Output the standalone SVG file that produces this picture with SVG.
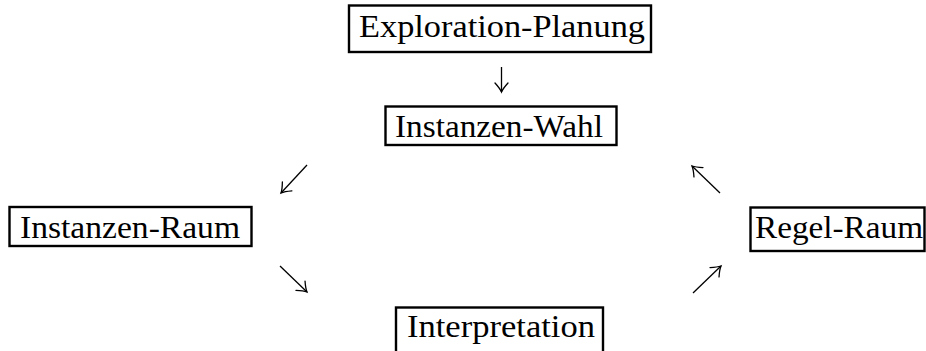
<svg xmlns="http://www.w3.org/2000/svg" width="926" height="351" viewBox="0 0 926 351">
  <style>
    .box { fill: #fff; stroke: #000; stroke-width: 2.4; }
    .lbl { font-family: "Liberation Serif", "DejaVu Serif", serif; font-size: 31px; fill: #000; }
    .arr { fill: none; stroke: #000; stroke-width: 1.3; marker-end: url(#head); }
  </style>
  <defs>
    <marker id="head" markerUnits="userSpaceOnUse" viewBox="-12 -9 14 18" refX="0" refY="0" markerWidth="14" markerHeight="18" orient="auto" overflow="visible">
      <path d="M -9,-6.5 Q -3.5,-1.5 0,0 Q -3.5,1.5 -9,6.5" fill="none" stroke="#000" stroke-width="1.3" stroke-linecap="round"/>
    </marker>
  </defs>

  <g id="exploration-planung">
    <rect class="box" x="349" y="5.5" width="302" height="46.5"/>
    <text class="lbl" x="359" y="37" textLength="286" lengthAdjust="spacingAndGlyphs">Exploration-Planung</text>
  </g>
  <g id="instanzen-wahl">
    <rect class="box" x="385.5" y="106.5" width="231" height="38.5"/>
    <text class="lbl" x="395" y="137" textLength="208" lengthAdjust="spacingAndGlyphs">Instanzen-Wahl</text>
  </g>
  <g id="instanzen-raum">
    <rect class="box" x="9.5" y="207" width="242" height="39"/>
    <text class="lbl" x="20" y="238" textLength="220" lengthAdjust="spacingAndGlyphs">Instanzen-Raum</text>
  </g>
  <g id="regel-raum">
    <rect class="box" x="750.5" y="207.5" width="174" height="43.5"/>
    <text class="lbl" x="755" y="238" textLength="168" lengthAdjust="spacingAndGlyphs">Regel-Raum</text>
  </g>
  <g id="interpretation">
    <rect class="box" x="396" y="307.5" width="207" height="60"/>
    <text class="lbl" x="407" y="337" textLength="188" lengthAdjust="spacingAndGlyphs">Interpretation</text>
  </g>

  <g id="connectors">
    <path class="arr" d="M 501.5,67 L 501.5,92"/>
    <path class="arr" d="M 307,165 L 281,193"/>
    <path class="arr" d="M 280,266 L 307,292"/>
    <path class="arr" d="M 693,293 L 721,266"/>
    <path class="arr" d="M 720,193 L 692,166"/>
  </g>
</svg>
